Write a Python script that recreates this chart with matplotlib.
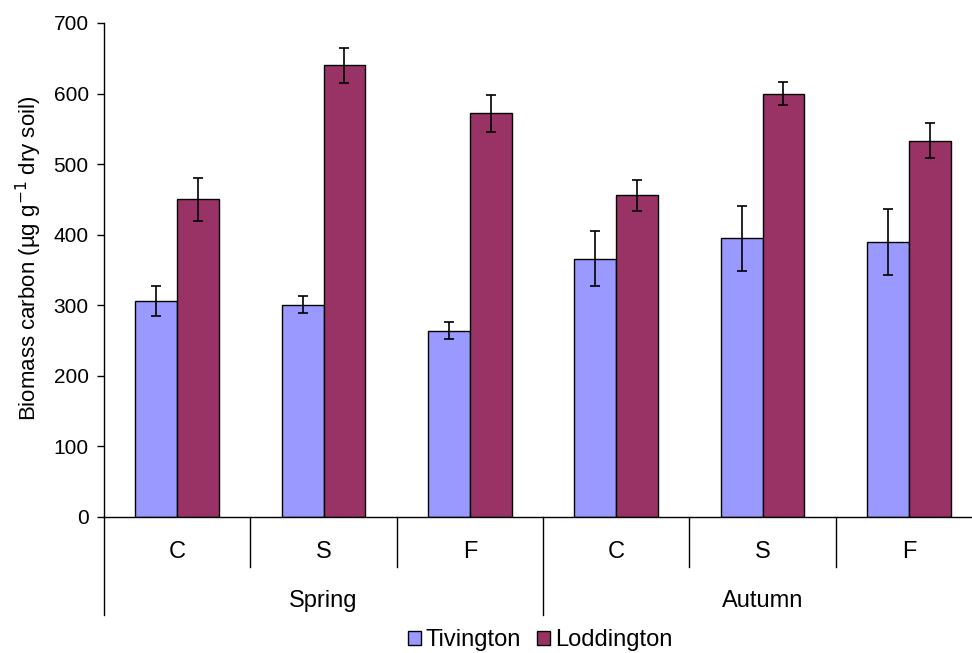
import matplotlib
matplotlib.use("Agg")
import matplotlib.pyplot as plt
import matplotlib.transforms as mtransforms
from matplotlib.patches import Patch
import numpy as np

plt.rcParams['font.family'] = ['Liberation Sans', 'DejaVu Sans']

# Treatments within each season
treatments = ["C", "S", "F", "C", "S", "F"]
seasons = ["Spring", "Autumn"]
series_names = ["Tivington", "Loddington"]

tivington = [306, 301, 264, 366, 395, 390]
tivington_err = [21, 12, 12, 39, 46, 47]
loddington = [450, 640, 572, 456, 600, 533]
loddington_err = [30, 25, 26, 22, 16, 25]

colors = ["#9999FF", "#993366"]

W, H = 972, 653
fig = plt.figure(figsize=(W / 100, H / 100), dpi=100)
ax_left, ax_right = 104 / W, 982 / W
ax_bottom, ax_top = (H - 517) / H, (H - 23) / H
ax = fig.add_axes([ax_left, ax_bottom, ax_right - ax_left, ax_top - ax_bottom])

x = np.arange(len(treatments))
bw = 0.287
err_kw = dict(ecolor="black", elinewidth=1.2, capsize=3.3, capthick=1.2)
ax.bar(x - bw / 2, tivington, bw, color=colors[0], edgecolor="black",
       linewidth=1.0, yerr=tivington_err, error_kw=err_kw, zorder=2)
ax.bar(x + bw / 2, loddington, bw, color=colors[1], edgecolor="black",
       linewidth=1.0, yerr=loddington_err, error_kw=err_kw, zorder=2)

ax.set_xlim(-0.5, len(treatments) - 0.5)
ax.set_ylim(0, 700)
ax.set_yticks(np.arange(0, 701, 100))
ax.tick_params(axis="y", direction="out", length=5, width=1, labelsize=15, pad=6)
ax.set_xticks([])
for s in ["top", "right"]:
    ax.spines[s].set_visible(False)
for s in ["left", "bottom"]:
    ax.spines[s].set_linewidth(1.0)
    ax.spines[s].set_color("black")

ax.set_ylabel("Biomass carbon (µg g$^{-1}$ dry soil)", fontsize=16)
ax.yaxis.set_label_coords(-60 / W / (ax_right - ax_left), (517 - 258) / 494)

# Two-level category axis below the plot
axis_h = 517 - 23
trans = mtransforms.blended_transform_factory(ax.transData, ax.transAxes)
short = -50 / axis_h
long_ = -98 / axis_h
for i in range(len(treatments) + 1):
    xpos = i - 0.5
    depth = long_ if i % 3 == 0 else short
    ax.plot([xpos, xpos], [0, depth], color="black", lw=1.0,
            transform=trans, clip_on=False)
for i, t in enumerate(treatments):
    ax.text(i, -35 / axis_h, t, transform=trans, ha="center", va="center",
            fontsize=17)
for j, s in enumerate(seasons):
    ax.text(3 * j + 1, -84 / axis_h, s, transform=trans, ha="center",
            va="center", fontsize=17)

handles = [Patch(facecolor=c, edgecolor="black", linewidth=1.0) for c in colors]
fig.legend(handles, series_names, loc="center",
           bbox_to_anchor=(540 / W, 1 - 640 / H), ncol=2, frameon=False,
           fontsize=17, handlelength=0.55, handleheight=0.55,
           handletextpad=0.2, columnspacing=0.7, borderpad=0.2)

fig.savefig("out.png", dpi=100)
